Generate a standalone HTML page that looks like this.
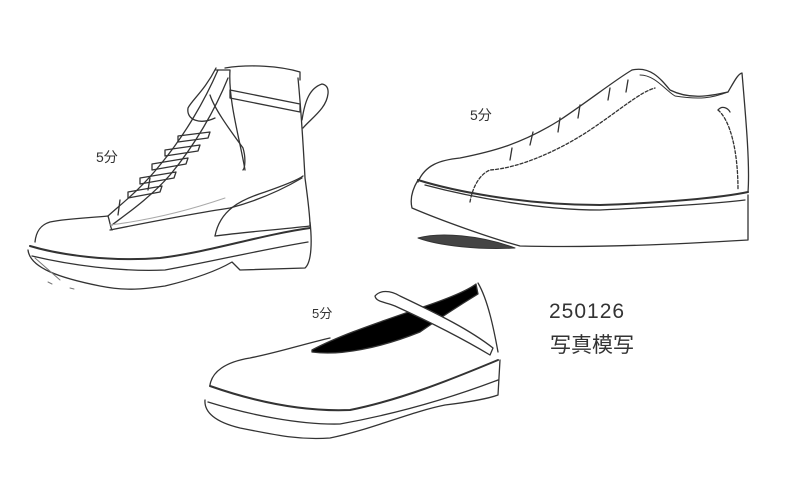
<!DOCTYPE html>
<html><head><meta charset="utf-8"><style>
html,body{margin:0;padding:0;background:#fff;width:800px;height:480px;overflow:hidden}
svg{display:block}
text{font-family:"Liberation Sans","Noto Sans CJK JP",sans-serif;fill:#333;stroke:none;font-weight:normal}
</style></head><body>
<svg width="800" height="480" viewBox="0 0 800 480" fill="none" stroke="#333" stroke-linecap="round" stroke-linejoin="round">
<!-- Boot -->
<g stroke-width="1.3">
<path d="M28,250 C30,268 60,278 100,286 C130,292 150,288 165,286 C190,280 215,272 232,262 L240,270 L305,268 C312,262 312,240 310,222"/>
<path d="M30,246 C60,255 110,262 160,258 C210,252 260,235 310,228" stroke-width="2"/>
<path d="M32,256 C70,265 120,272 165,270 C210,262 260,250 308,242"/>
<path d="M35,242 C36,232 40,225 50,222 C70,218 90,218 108,216"/>
<path d="M218,70 C205,100 185,135 160,165 C140,190 120,205 108,216"/>
<path d="M228,78 C215,110 195,145 170,175 C150,198 125,215 112,225"/>
<path d="M108,216 C110,222 110,226 112,230"/>
<path d="M110,230 C150,222 190,214 230,208 C260,200 285,188 302,178"/>
<path d="M215,236 C220,210 240,200 265,192 C285,185 298,180 303,176"/>
<path d="M215,236 C245,232 275,230 310,226"/>
<path d="M298,78 C302,120 304,160 305,178 C308,200 310,215 310,226"/>
<path d="M225,68 C250,64 280,66 300,72 L300,80"/>
<path d="M216,70 L230,70 C228,100 240,140 245,170"/>
<path d="M230,90 C255,95 280,100 300,104 L300,112 C270,106 250,102 230,98 Z"/>
<path d="M302,120 C305,100 310,88 322,84 C332,86 328,100 322,108 C316,116 308,122 303,128"/>
<path d="M216,68 C205,90 192,100 188,108 C186,120 200,125 215,118"/>
<path d="M210,95 C215,110 230,130 243,148 C246,158 245,168 243,170"/>
<path d="M178,136 L210,132 L208,138 L178,142 Z M165,150 L200,145 L198,151 L165,156 Z M152,164 L188,158 L186,164 L152,170 Z M140,178 L176,172 L174,178 L140,184 Z M128,192 L162,186 L160,192 L128,198 Z"/>
<path d="M120,200 L118,215 M150,178 L148,190"/>
<path d="M110,225 C150,220 190,210 225,198" stroke="#aaa" stroke-width="1"/>
<path d="M35,258 L60,280 M48,282 L52,284 M70,288 L74,289" stroke="#777" stroke-width="1"/>
</g>
<!-- Sneaker -->
<g stroke-width="1.3">
<path d="M418,180 C412,190 410,200 412,208 C440,220 490,238 520,246 C600,248 680,244 748,240 L748,195"/>
<path d="M418,180 C450,190 520,205 600,205 C660,203 720,198 748,192" stroke-width="2"/>
<path d="M425,185 C470,197 540,210 600,210 C680,206 720,203 745,200"/>
<path d="M418,182 C425,165 440,160 460,158 C490,152 520,145 560,120 C590,100 615,80 632,70"/>
<path d="M632,70 C650,66 660,78 670,90 C690,100 710,96 728,92 C735,80 738,74 742,73 C746,120 750,165 748,192"/>
<path d="M640,75 C655,75 665,90 675,96 C700,100 712,98 728,92" stroke-width="1"/>
<path d="M470,202 C472,190 478,175 490,170 C520,168 560,150 590,130 C620,110 640,92 655,88" stroke-dasharray="3,2"/>
<path d="M718,110 C730,120 738,150 738,190" stroke-dasharray="3,2"/>
<path d="M718,110 C722,105 728,108 730,112"/>
<path d="M512,148 L510,160 M533,132 L530,145 M560,118 L558,132 M580,105 L578,118 M610,88 L608,100 M628,80 L626,92"/>
<path d="M418,238 C440,232 480,235 515,248 C480,250 440,246 418,238 Z" fill="#444" stroke-width="1"/>
</g>
<!-- Flat -->
<g stroke-width="1.3">
<path d="M205,400 C204,412 215,422 240,428 C280,436 300,440 330,438 C370,430 410,412 445,405 C470,402 490,398 498,395 L500,360"/>
<path d="M210,385 C212,372 225,362 250,358 C280,352 300,345 330,338"/>
<path d="M210,386 C250,400 300,412 350,410 C400,400 450,380 498,360" stroke-width="2"/>
<path d="M208,402 C250,415 300,425 340,424 C390,415 440,402 498,380"/>
<path d="M312,350 C340,335 380,322 420,308 C450,298 468,290 476,284 L478,294 C460,305 440,318 420,332 C380,348 340,356 312,352 Z" fill="#000"/>
<path d="M478,283 C488,300 494,330 498,352"/>
<path d="M375,296 C380,290 390,290 400,296 C440,315 470,330 493,348 L490,355 C465,340 430,322 395,306 C385,302 376,302 375,296 Z" fill="#fff"/>
</g>
<text x="96" y="162" font-size="14">5分</text>
<text x="470" y="120" font-size="14">5分</text>
<text x="312" y="318" font-size="13">5分</text>
<text x="549" y="318" font-size="21" letter-spacing="1">250126</text>
<text x="550" y="352" font-size="21">写真模写</text>
</svg>
</body></html>
